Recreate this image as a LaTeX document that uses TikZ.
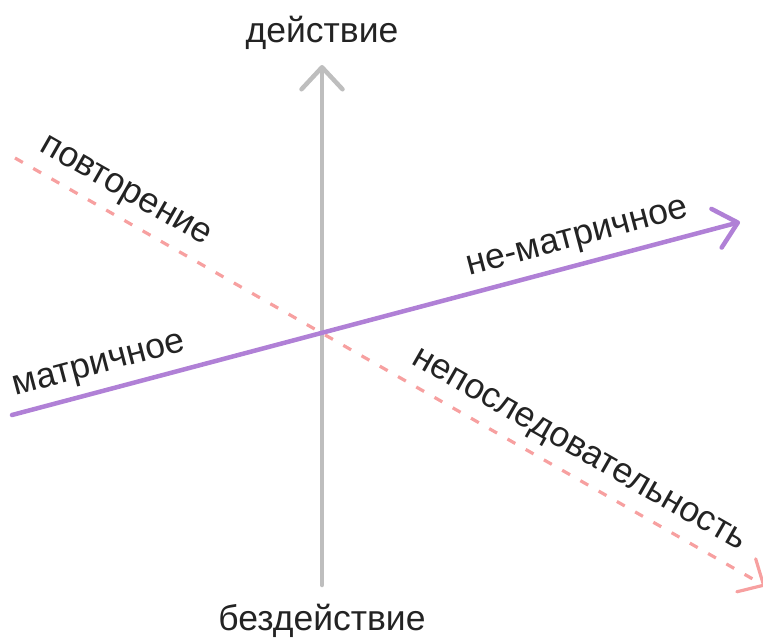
\documentclass[tikz,border=0pt]{standalone}
\usepackage{fontspec}
\setmainfont{Liberation Sans}
\usetikzlibrary{arrows.meta}
\definecolor{axisgray}{RGB}{190,190,190}
\definecolor{lilac}{RGB}{176,128,214}
\definecolor{pinkish}{RGB}{247,160,160}
\definecolor{txt}{RGB}{35,35,35}
\begin{document}
\begin{tikzpicture}[x=1pt,y=-1pt,
  lbl/.style={font=\fontsize{35.5}{42}\selectfont, text=txt, inner xsep=0pt, inner ysep=10.5pt},
  grayaxis/.style={draw=axisgray, line width=4.5pt, line cap=round,
    -{Straight Barb[length=22pt,width=41pt,round]}},
  lilacaxis/.style={draw=lilac, line width=4.5pt, line cap=round,
    -{Straight Barb[length=22pt,width=40pt,round]}},
  pinkaxis/.style={draw=pinkish, line width=3.2pt, dash pattern=on 9pt off 12pt,
    -{Straight Barb[length=20pt,width=38pt,round]}}]
\useasboundingbox (0,0) rectangle (763,643);
\clip (0,0) rectangle (763,643);
\coordinate (vbot) at (322,585);
\coordinate (vtop) at (322,65);
\coordinate (pl) at (12,415);
\coordinate (pr) at (740,222);
\coordinate (ds) at (15,158);
\coordinate (de) at (765,586);
\draw[grayaxis] (vbot) -- (vtop);
\draw[pinkaxis] (ds) -- (de);
\draw[lilacaxis] (pl) -- (pr);
\node[lbl, anchor=base, inner ysep=0pt] (act) at (322,42) {действие};
\node[lbl, anchor=base, inner ysep=0pt] (inact) at (322,630) {бездействие};
\path (pl) -- (pr)
  node[lbl, sloped, anchor=south west, pos=0.011] (matr) {матричное}
  node[lbl, sloped, anchor=south west, pos=0.634] (nematr) {не-матричное};
\path (ds) -- (de)
  node[lbl, sloped, anchor=south west, pos=0.019] (povt) {повторение}
  node[lbl, sloped, anchor=south west, pos=0.515] (nepos) {непоследовательность};
\end{tikzpicture}
\end{document}
